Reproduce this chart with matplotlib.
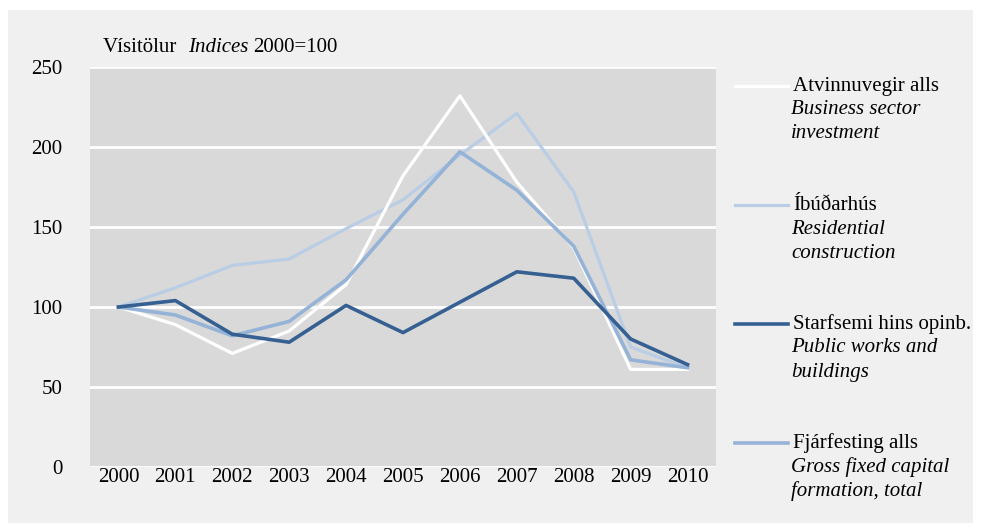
import matplotlib.pyplot as plt
from matplotlib.patches import Rectangle
from matplotlib.lines import Line2D

plt.rcParams['font.family'] = ['Liberation Serif', 'DejaVu Serif']

years = ['2000', '2001', '2002', '2003', '2004', '2005', '2006', '2007', '2008', '2009', '2010']
business = [100, 89, 71, 85, 114, 182, 232, 178, 137, 61, 61]
residential = [100, 112, 126, 130, 149, 167, 195, 221, 172, 75, 62]
public = [100, 104, 83, 78, 101, 84, 103, 122, 118, 80, 64]
gross = [100, 95, 82, 91, 117, 158, 197, 173, 138, 67, 62]

names_is = ['Atvinnuvegir alls', 'Íbúðarhús', 'Starfsemi hins opinb.', 'Fjárfesting alls']
names_en = [['Business sector', 'investment'], ['Residential', 'construction'],
            ['Public works and', 'buildings'], ['Gross fixed capital', 'formation, total']]
colors = ['#ffffff', '#b9cde5', '#376092', '#95b3d7']
widths = [2.3, 2.3, 2.6, 2.6]
fs = 15

W, H = 981, 531
fig = plt.figure(figsize=(W / 100, H / 100), dpi=100, facecolor='white')
fig.add_artist(Rectangle((8 / W, 8 / H), 1 - 16 / W, 1 - 18 / H, transform=fig.transFigure,
                         facecolor='#f0f0f0', edgecolor='none', zorder=-10))

ax = fig.add_axes([90 / W, 1 - 467 / H, 626 / W, 400 / H])
ax.set_facecolor('#d9d9d9')
x = range(len(years))
series = [business, residential, public, gross]
order = [1, 0, 3, 2]
for i in order:
    ax.plot(x, series[i], color=colors[i], lw=widths[i], zorder=3 + order.index(i))

ax.set_xlim(-0.5, len(years) - 0.5)
ax.set_ylim(0, 250)
ax.set_yticks([0, 50, 100, 150, 200, 250])
ax.set_xticks(list(x))
ax.set_xticklabels(years)
ax.grid(axis='y', color='white', lw=2)
ax.set_axisbelow(True)
for s in ax.spines.values():
    s.set_visible(False)
ax.tick_params(length=0, labelsize=fs, colors='black')
ax.tick_params(axis='y', pad=20)
ax.tick_params(axis='x', pad=1)

ty = 1 - 47 / H
fig.text(103 / W, ty, 'Vísitölur', fontsize=fs, va='center')
fig.text(188 / W, ty, 'Indices', fontsize=fs, style='italic', va='center')
fig.text(253 / W, ty, '2000=100', fontsize=fs, va='center')

ys = [86, 205, 324, 443]
for i in range(4):
    yy = 1 - ys[i] / H
    fig.add_artist(Line2D([735 / W, 788 / W], [yy, yy], transform=fig.transFigure,
                          color=colors[i], lw=widths[i]))
    fig.text(793 / W, yy, names_is[i], fontsize=fs, va='center')
    for k, line in enumerate(names_en[i]):
        fig.text(791 / W, yy - (k + 1) * 24 / H, line, fontsize=fs, style='italic', va='center')

fig.savefig('out.png', dpi=100, facecolor=fig.get_facecolor())
